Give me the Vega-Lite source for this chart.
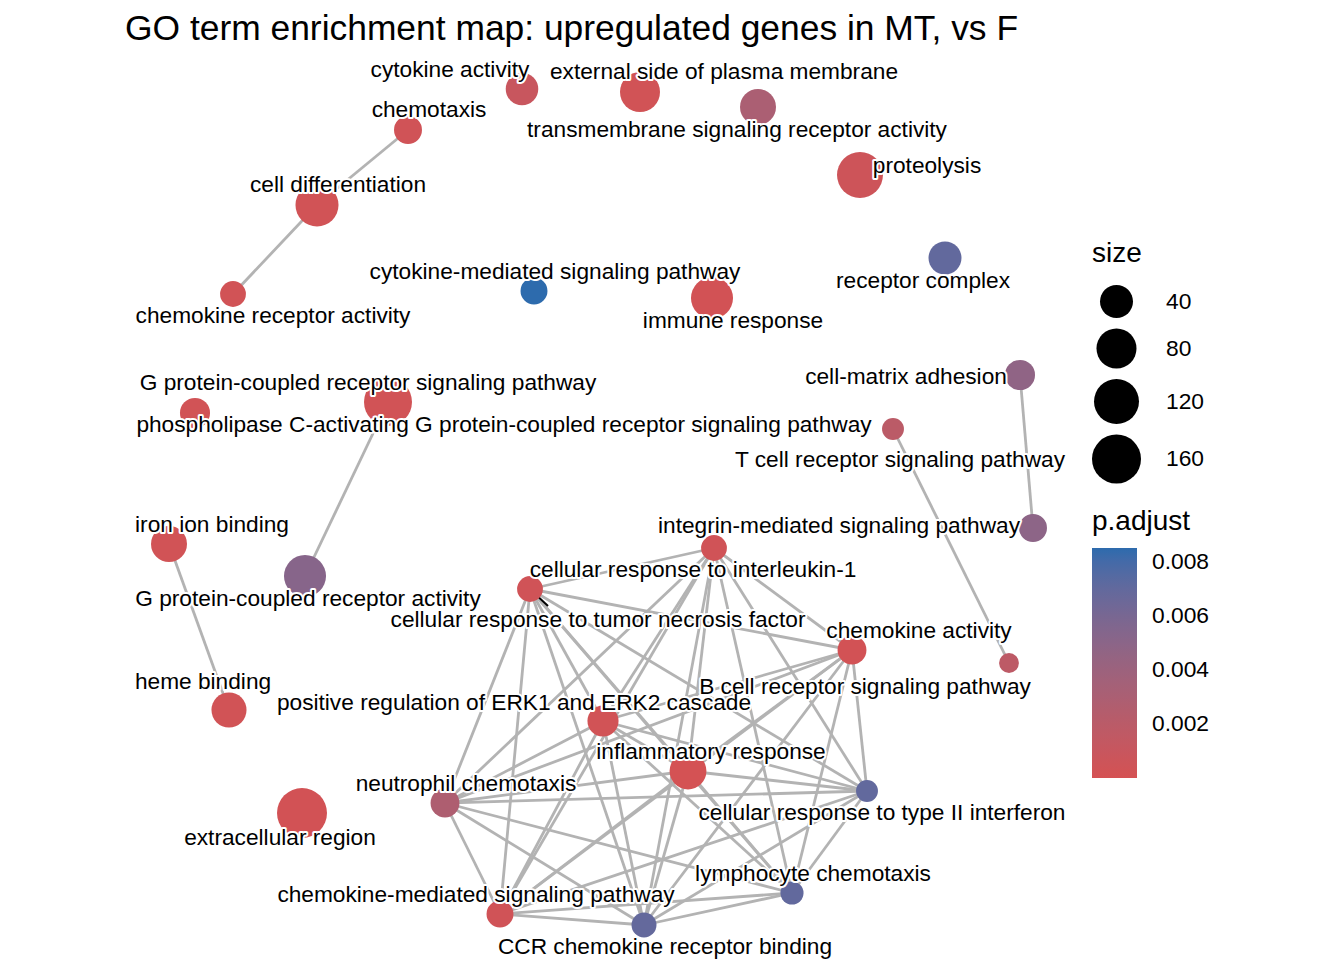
{
  "$schema": "https://vega.github.io/schema/vega-lite/v6.json",
  "width": 1344,
  "height": 915,
  "autosize": "none",
  "padding": {"left": 0, "top": 45, "right": 0, "bottom": 0},
  "background": "white",
  "config": {"view": {"stroke": null}, "font": "Liberation Sans"},
  "title": {
    "text": "GO term enrichment map: upregulated genes in MT, vs F",
    "anchor": "start",
    "frame": "group",
    "dx": 125,
    "dy": 36,
    "fontSize": 35.4,
    "font": "Liberation Sans",
    "fontWeight": "normal",
    "color": "black",
    "baseline": "alphabetic",
    "offset": 6
  },
  "datasets": {
    "nodes": [
      {"id": "n1", "term": "cytokine activity", "x": 522, "y": 89, "lx": 450, "ly": 70, "size": 38, "padj": 0.0010},
      {"id": "n2", "term": "external side of plasma membrane", "x": 640, "y": 92, "lx": 724, "ly": 72, "size": 80, "padj": 0.0003},
      {"id": "n3", "term": "transmembrane signaling receptor activity", "x": 758, "y": 107, "lx": 737, "ly": 130, "size": 55, "padj": 0.0030},
      {"id": "n4", "term": "chemotaxis", "x": 408, "y": 130, "lx": 429, "ly": 110, "size": 21, "padj": 0.0004},
      {"id": "n5", "term": "proteolysis", "x": 860, "y": 175, "lx": 927, "ly": 166, "size": 129, "padj": 0.0006},
      {"id": "n6", "term": "cell differentiation", "x": 317, "y": 205, "lx": 338, "ly": 185, "size": 103, "padj": 0.0003},
      {"id": "n7", "term": "receptor complex", "x": 945, "y": 258, "lx": 923, "ly": 281, "size": 40, "padj": 0.0070},
      {"id": "n8", "term": "chemokine receptor activity", "x": 233, "y": 294, "lx": 273, "ly": 316, "size": 15, "padj": 0.0003},
      {"id": "n9", "term": "cytokine-mediated signaling pathway", "x": 534, "y": 291, "lx": 555, "ly": 272, "size": 18, "padj": 0.0085},
      {"id": "n10", "term": "immune response", "x": 712, "y": 298, "lx": 733, "ly": 321, "size": 95, "padj": 0.0002},
      {"id": "n11", "term": "cell-matrix adhesion", "x": 1020, "y": 375, "lx": 906, "ly": 377, "size": 28, "padj": 0.0047},
      {"id": "n12", "term": "G protein-coupled receptor signaling pathway", "x": 388, "y": 402, "lx": 368, "ly": 383, "size": 149, "padj": 0.0003},
      {"id": "n13", "term": "phospholipase C-activating G protein-coupled receptor signaling pathway", "x": 195, "y": 413, "lx": 504, "ly": 425, "size": 28, "padj": 0.0003},
      {"id": "n14", "term": "T cell receptor signaling pathway", "x": 893, "y": 429, "lx": 900, "ly": 460, "size": 7, "padj": 0.0019},
      {"id": "n15", "term": "iron ion binding", "x": 169, "y": 544, "lx": 212, "ly": 525, "size": 55, "padj": 0.0003},
      {"id": "n16", "term": "integrin-mediated signaling pathway", "x": 1033, "y": 528, "lx": 839, "ly": 526, "size": 21, "padj": 0.0049},
      {"id": "n17", "term": "G protein-coupled receptor activity", "x": 305, "y": 576, "lx": 308, "ly": 599, "size": 95, "padj": 0.0052},
      {"id": "n18", "term": "heme binding", "x": 229, "y": 710, "lx": 203, "ly": 682, "size": 50, "padj": 0.0003},
      {"id": "n19", "term": "extracellular region", "x": 302, "y": 813, "lx": 280, "ly": 838, "size": 171, "padj": 0.0002},
      {"id": "n20", "term": "B cell receptor signaling pathway", "x": 1009, "y": 663, "lx": 865, "ly": 687, "size": 4, "padj": 0.0018},
      {"id": "A", "term": "cellular response to interleukin-1", "x": 714, "y": 548, "lx": 693, "ly": 570, "size": 15, "padj": 0.0004},
      {"id": "B", "term": "cellular response to tumor necrosis factor", "x": 530, "y": 589, "lx": 598, "ly": 620, "size": 15, "padj": 0.0004},
      {"id": "C", "term": "chemokine activity", "x": 852, "y": 650, "lx": 919, "ly": 631, "size": 24, "padj": 0.0002},
      {"id": "D", "term": "positive regulation of ERK1 and ERK2 cascade", "x": 603, "y": 721, "lx": 514, "ly": 703, "size": 32, "padj": 0.0003},
      {"id": "E", "term": "inflammatory response", "x": 688, "y": 771, "lx": 711, "ly": 752, "size": 60, "padj": 0.0001},
      {"id": "F", "term": "neutrophil chemotaxis", "x": 445, "y": 803, "lx": 466, "ly": 784, "size": 24, "padj": 0.0028},
      {"id": "G", "term": "cellular response to type II interferon", "x": 867, "y": 791, "lx": 882, "ly": 813, "size": 7, "padj": 0.0070},
      {"id": "H", "term": "lymphocyte chemotaxis", "x": 792, "y": 893, "lx": 813, "ly": 874, "size": 9, "padj": 0.0070},
      {"id": "I", "term": "chemokine-mediated signaling pathway", "x": 500, "y": 914, "lx": 476, "ly": 895, "size": 18, "padj": 0.0004},
      {"id": "J", "term": "CCR chemokine receptor binding", "x": 644, "y": 925, "lx": 665, "ly": 947, "size": 13, "padj": 0.0069}
    ],
    "edges": [
      {"s": "n4", "t": "n6"}, {"s": "n6", "t": "n8"}, {"s": "n12", "t": "n17"}, {"s": "n15", "t": "n18"},
      {"s": "n11", "t": "n16"}, {"s": "n14", "t": "n20"},
      {"s": "A", "t": "B"}, {"s": "A", "t": "C"}, {"s": "A", "t": "D"}, {"s": "A", "t": "E"}, {"s": "A", "t": "F"},
      {"s": "A", "t": "G"}, {"s": "A", "t": "H"}, {"s": "A", "t": "I"}, {"s": "A", "t": "J"},
      {"s": "B", "t": "C"}, {"s": "B", "t": "D"}, {"s": "B", "t": "E"}, {"s": "B", "t": "F"}, {"s": "B", "t": "G"},
      {"s": "B", "t": "H"}, {"s": "B", "t": "I"}, {"s": "B", "t": "J"},
      {"s": "C", "t": "D"}, {"s": "C", "t": "E"}, {"s": "C", "t": "F"}, {"s": "C", "t": "G"}, {"s": "C", "t": "H"},
      {"s": "C", "t": "I"}, {"s": "C", "t": "J"},
      {"s": "D", "t": "E"}, {"s": "D", "t": "F"}, {"s": "D", "t": "G"}, {"s": "D", "t": "H"}, {"s": "D", "t": "I"}, {"s": "D", "t": "J"},
      {"s": "E", "t": "F"}, {"s": "E", "t": "G"}, {"s": "E", "t": "H"}, {"s": "E", "t": "I"}, {"s": "E", "t": "J"},
      {"s": "F", "t": "G"}, {"s": "F", "t": "H"}, {"s": "F", "t": "I"}, {"s": "F", "t": "J"},
      {"s": "G", "t": "H"}, {"s": "G", "t": "I"}, {"s": "G", "t": "J"},
      {"s": "H", "t": "I"}, {"s": "H", "t": "J"},
      {"s": "I", "t": "J"}
    ],
    "leader": [
      {"x": 532, "y": 591, "x2": 548, "y2": 606}
    ]
  },
  "layer": [
    {
      "data": {"name": "edges"},
      "transform": [
        {"lookup": "s", "from": {"data": {"name": "nodes"}, "key": "id", "fields": ["x", "y"]}, "as": ["sx", "sy"]},
        {"lookup": "t", "from": {"data": {"name": "nodes"}, "key": "id", "fields": ["x", "y"]}, "as": ["tx", "ty"]}
      ],
      "mark": {"type": "rule", "color": "#b3b3b3", "strokeWidth": 2.8},
      "encoding": {
        "x": {"field": "sx", "type": "quantitative", "scale": {"domain": [0, 1344], "nice": false, "zero": false}, "axis": null},
        "y": {"field": "sy", "type": "quantitative", "scale": {"domain": [45, 960], "nice": false, "zero": false, "reverse": true}, "axis": null},
        "x2": {"field": "tx"},
        "y2": {"field": "ty"}
      }
    },
    {
      "data": {"name": "leader"},
      "mark": {"type": "rule", "color": "black", "strokeWidth": 2},
      "encoding": {
        "x": {"field": "x", "type": "quantitative", "scale": {"domain": [0, 1344], "nice": false, "zero": false}, "axis": null},
        "y": {"field": "y", "type": "quantitative", "scale": {"domain": [45, 960], "nice": false, "zero": false, "reverse": true}, "axis": null},
        "x2": {"field": "x2"},
        "y2": {"field": "y2"}
      }
    },
    {
      "data": {"name": "nodes"},
      "mark": {"type": "circle", "opacity": 1, "strokeWidth": 0},
      "encoding": {
        "x": {"field": "x", "type": "quantitative", "scale": {"domain": [0, 1344], "nice": false, "zero": false}, "axis": null},
        "y": {"field": "y", "type": "quantitative", "scale": {"domain": [45, 960], "nice": false, "zero": false, "reverse": true}, "axis": null},
        "size": {
          "field": "size", "type": "quantitative",
          "scale": {"type": "pow", "exponent": 0.65, "domain": [40, 160], "range": [1089, 2401]},
          "legend": {
            "title": "size", "orient": "none", "legendX": 1092, "legendY": 195,
            "values": [40, 80, 120, 160], "symbolType": "circle",
            "symbolFillColor": "black", "symbolStrokeWidth": 0, "symbolOpacity": 1,
            "titleFontSize": 28, "titleFont": "Liberation Sans", "titleFontWeight": "normal", "titleColor": "black",
            "titlePadding": 17, "labelFontSize": 22.8, "labelFont": "Liberation Sans", "labelColor": "black",
            "labelOffset": 25, "rowPadding": 10.5, "padding": 0, "direction": "vertical"
          }
        },
        "color": {
          "field": "padj", "type": "quantitative",
          "scale": {"domain": [0.00001, 0.0085], "range": ["#d55153", "#2d6bad"], "interpolate": "lab"},
          "legend": {
            "title": "p.adjust", "orient": "none", "legendX": 1092, "legendY": 463, "type": "gradient", "direction": "vertical",
            "values": [0.002, 0.004, 0.006, 0.008], "format": ".3f",
            "gradientLength": 230, "gradientThickness": 45, "gradientStrokeWidth": 0,
            "titleFontSize": 28, "titleFont": "Liberation Sans", "titleFontWeight": "normal", "titleColor": "black",
            "titlePadding": 12, "labelFontSize": 22.8, "labelFont": "Liberation Sans", "labelColor": "black",
            "labelOffset": 15, "padding": 0
          }
        }
      }
    },
    {
      "data": {"name": "nodes"},
      "mark": {"type": "text", "fontSize": 22.7, "font": "Liberation Sans", "fill": "white", "stroke": "white", "strokeWidth": 4, "strokeJoin": "round", "align": "center", "baseline": "middle"},
      "encoding": {
        "x": {"field": "lx", "type": "quantitative", "scale": {"domain": [0, 1344], "nice": false, "zero": false}, "axis": null},
        "y": {"field": "ly", "type": "quantitative", "scale": {"domain": [45, 960], "nice": false, "zero": false, "reverse": true}, "axis": null},
        "text": {"field": "term"}
      }
    },
    {
      "data": {"name": "nodes"},
      "mark": {"type": "text", "fontSize": 22.7, "font": "Liberation Sans", "color": "black", "align": "center", "baseline": "middle"},
      "encoding": {
        "x": {"field": "lx", "type": "quantitative", "scale": {"domain": [0, 1344], "nice": false, "zero": false}, "axis": null},
        "y": {"field": "ly", "type": "quantitative", "scale": {"domain": [45, 960], "nice": false, "zero": false, "reverse": true}, "axis": null},
        "text": {"field": "term"}
      }
    }
  ]
}
